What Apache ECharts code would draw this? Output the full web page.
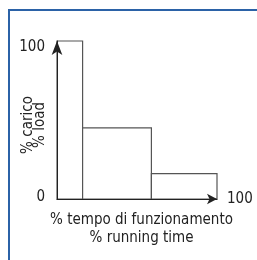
<!DOCTYPE html>
<html lang="it">
  <head>
    <meta charset="UTF-8" />
    <title>carico / tempo</title>
    <script src="https://cdn.jsdelivr.net/npm/echarts@6/dist/echarts.min.js"></script>
    <style>
      html, body { margin: 0; padding: 0; background: #fff; }
      .echarts { width: 257px; height: 260px; }
    </style>
  </head>
  <body>
    <div class="echarts"></div>
    <script>
        // % tempo di funzionamento: bordi dei tre gradini
        const timeEdges = [0, 16, 59, 100]
        // % carico per ogni gradino
        const loadValues = [100, 45, 16]
        const yTicks = [0, 100]
        const xTicks = [100]

        const font = "'Liberation Sans Narrow', 'DejaVu Sans Condensed', sans-serif"
        const steps = loadValues.map((v, i) => [timeEdges[i], timeEdges[i + 1], v])

        const myCharts = echarts.init(document.querySelector('.echarts'))

        const option = {
            animation: false,
            textStyle: { fontFamily: font },
            grid: { left: 57, right: 40, top: 41, bottom: 61, containLabel: false, outerBoundsMode: 'none' },
            // cornice blu (solo lato sinistro e superiore visibili)
            graphic: [{
                type: 'rect',
                shape: { x: 9, y: 10, width: 300, height: 300 },
                style: { fill: 'none', stroke: '#2b62a7', lineWidth: 2 },
                z: 10
            }],
            xAxis: {
                type: 'value',
                min: 0,
                max: 100,
                interval: 100,
                z: 5,
                name: '% tempo di funzionamento\n% running time',
                nameLocation: 'middle',
                nameGap: 12,
                nameMoveOverlap: false,
                nameTextStyle: { fontFamily: font, fontSize: 15, color: '#222', lineHeight: 18, padding: [0, 0, 0, 9] },
                axisLine: { lineStyle: { color: '#222', width: 1 }, symbol: ['none', 'arrow'], symbolSize: [8, 10] },
                axisTick: { show: false },
                splitLine: { show: false },
                axisLabel: {
                    fontFamily: font, fontSize: 15, color: '#222',
                    margin: 0, align: 'left', verticalAlign: 'middle', padding: [0, 0, 0, 10],
                    formatter: (v) => xTicks.includes(v) ? String(v) : ''
                }
            },
            yAxis: {
                type: 'value',
                min: 0,
                max: 100,
                interval: 100,
                z: 5,
                name: '% carico\n% load',
                nameLocation: 'middle',
                nameGap: 11,
                nameMoveOverlap: false,
                nameTextStyle: { fontFamily: font, fontSize: 15, color: '#222', lineHeight: 12, padding: [0, 10, 0, 0] },
                axisLine: { show: true, lineStyle: { color: '#222', width: 1 }, symbol: ['none', 'arrow'], symbolSize: [8, 14] },
                axisTick: { show: false },
                splitLine: { show: false },
                axisLabel: {
                    fontFamily: font, fontSize: 15, color: '#222', margin: 12,
                    formatter: (v) => yTicks.includes(v) ? (v === 100 ? '{t|' + v + '}' : '{b|' + v + '}') : '',
                    rich: {
                        t: { fontFamily: font, fontSize: 15, color: '#222', padding: [12, 0, 0, 0] },
                        b: { fontFamily: font, fontSize: 15, color: '#222', padding: [0, 0, 4, 0] }
                    }
                }
            },
            series: [{
                type: 'custom',
                z: 1,
                data: steps,
                renderItem: (params, api) => {
                    const topLeft = api.coord([api.value(0), api.value(2)])
                    const bottomRight = api.coord([api.value(1), 0])
                    return {
                        type: 'rect',
                        shape: {
                            x: topLeft[0],
                            y: topLeft[1],
                            width: bottomRight[0] - topLeft[0],
                            height: bottomRight[1] - topLeft[1]
                        },
                        style: { fill: '#fff', stroke: '#555', lineWidth: 1.2 }
                    }
                }
            }]
        }

        myCharts.setOption(option)
    </script>
  </body>
</html>
